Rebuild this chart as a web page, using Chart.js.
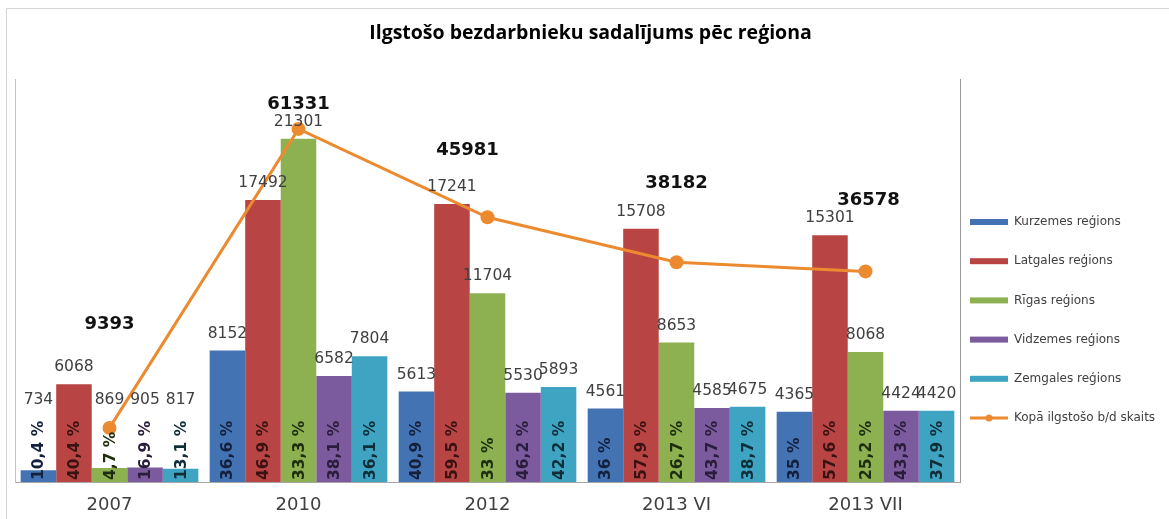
<!DOCTYPE html>
<html lang="lv">
<head>
<meta charset="utf-8">
<title>Ilgstošo bezdarbnieku sadalījums pēc reģiona</title>
<script src="https://cdn.jsdelivr.net/npm/chart.js@4.4.1/dist/chart.umd.min.js"></script>
<style>
  html, body { margin: 0; padding: 0; background: #fff; overflow: hidden; }
  #wrap { position: relative; width: 1169px; height: 519px; }
</style>
</head>
<body>
<div id="wrap"><canvas id="chart"></canvas></div>
<script>
// data
const chartTitle = 'Ilgstošo bezdarbnieku sadalījums pēc reģiona';
const periods = ['2007', '2010', '2012', '2013 VI', '2013 VII'];

const kurzeme = [734, 8152, 5613, 4561, 4365];
const latgale = [6068, 17492, 17241, 15708, 15301];
const riga = [869, 21301, 11704, 8653, 8068];
const vidzeme = [905, 6582, 5530, 4585, 4424];
const zemgale = [817, 7804, 5893, 4675, 4420];

// share of long-term unemployed, %
const kurzemePct = [10.4, 36.6, 40.9, 36, 35];
const latgalePct = [40.4, 46.9, 59.5, 57.9, 57.6];
const rigaPct = [4.7, 33.3, 33, 26.7, 25.2];
const vidzemePct = [16.9, 38.1, 46.2, 43.7, 43.3];
const zemgalePct = [13.1, 36.1, 42.2, 38.7, 37.9];

const totals = [9393, 61331, 45981, 38182, 36578];

const barSeries = [
    { label: 'Kurzemes reģions', values: kurzeme, pct: kurzemePct, color: '#4473b4', pctColor: '#14213d' },
    { label: 'Latgales reģions', values: latgale, pct: latgalePct, color: '#b84543', pctColor: '#3b1212' },
    { label: 'Rīgas reģions', values: riga, pct: rigaPct, color: '#8db150', pctColor: '#1f2d0f' },
    { label: 'Vidzemes reģions', values: vidzeme, pct: vidzemePct, color: '#7b5b9e', pctColor: '#2a1d3b' },
    { label: 'Zemgales reģions', values: zemgale, pct: zemgalePct, color: '#3fa3c2', pctColor: '#0f2e38' }
];
const totalLabel = 'Kopā ilgstošo b/d skaits';
const totalColor = '#ec8a2f';

// totals labels were nudged by hand in the original
const totalShift = [[0, -104], [0, -25], [-20, -67], [0, -79], [3, -71]];

const fmtPct = v => String(v).replace('.', ',') + ' %';
const numFont = '"DejaVu Sans", sans-serif';

const labelPlugin = {
    id: 'labels',
    beforeDraw(chart) {
        const ctx = chart.ctx;
        ctx.save();
        ctx.strokeStyle = '#d4d4d4';
        ctx.lineWidth = 1;
        ctx.beginPath();
        ctx.moveTo(6.5, chart.height);
        ctx.lineTo(6.5, 8.5);
        ctx.lineTo(chart.width, 8.5);
        ctx.stroke();
        ctx.fillStyle = '#000';
        ctx.font = 'bold 19.5px "Open Sans", sans-serif';
        ctx.textAlign = 'center';
        ctx.textBaseline = 'middle';
        ctx.fillText(chartTitle, chart.width / 2 + 6, 33);
        ctx.restore();
    },
    afterDatasetsDraw(chart) {
        const ctx = chart.ctx;
        const base = chart.scales.y.getPixelForValue(0);
        ctx.save();
        ctx.textBaseline = 'middle';
        barSeries.forEach((s, i) => {
            chart.getDatasetMeta(i).data.forEach((bar, j) => {
                ctx.font = '15.5px ' + numFont;
                ctx.fillStyle = '#404040';
                ctx.textAlign = 'center';
                ctx.fillText(String(s.values[j]), bar.x, Math.min(bar.y - 17, base - 82));

                ctx.save();
                ctx.translate(bar.x, base - 2);
                ctx.rotate(-Math.PI / 2);
                ctx.font = 'bold 15.5px ' + numFont;
                ctx.fillStyle = s.pctColor;
                ctx.textAlign = 'left';
                ctx.fillText(fmtPct(s.pct[j]), 0, 1);
                ctx.restore();
            });
        });
        // totals
        ctx.font = 'bold 18px ' + numFont;
        ctx.fillStyle = '#111';
        ctx.textAlign = 'center';
        chart.getDatasetMeta(barSeries.length).data.forEach((pt, j) => {
            ctx.fillText(String(totals[j]), pt.x + totalShift[j][0], pt.y + totalShift[j][1]);
        });
        ctx.restore();
    },
    afterDraw(chart) {
        // legend on the right
        const ctx = chart.ctx;
        const x0 = 970, top = 222, step = 39.2;
        ctx.save();
        ctx.font = '12px ' + numFont;
        ctx.textBaseline = 'middle';
        ctx.textAlign = 'left';
        barSeries.forEach((s, i) => {
            const y = top + i * step;
            ctx.fillStyle = s.color;
            ctx.fillRect(x0, y - 3, 38, 6);
            ctx.fillStyle = '#404040';
            ctx.fillText(s.label, x0 + 44, y);
        });
        const y = top + barSeries.length * step;
        ctx.strokeStyle = totalColor;
        ctx.lineWidth = 3;
        ctx.beginPath();
        ctx.moveTo(x0, y);
        ctx.lineTo(x0 + 38, y);
        ctx.stroke();
        ctx.fillStyle = totalColor;
        ctx.beginPath();
        ctx.arc(x0 + 19, y, 3.5, 0, Math.PI * 2);
        ctx.fill();
        ctx.fillStyle = '#404040';
        ctx.fillText(totalLabel, x0 + 44, y);
        ctx.restore();
    }
};

const datasets = barSeries.map(s => ({
    type: 'bar',
    label: s.label,
    data: s.values,
    backgroundColor: s.color,
    borderWidth: 0,
    categoryPercentage: 0.94,
    barPercentage: 1.0,
    yAxisID: 'y',
    order: 1
}));
datasets.push({
    type: 'line',
    label: totalLabel,
    data: totals,
    borderColor: totalColor,
    backgroundColor: totalColor,
    borderWidth: 3,
    pointRadius: 7,
    pointBorderWidth: 0,
    pointBackgroundColor: totalColor,
    tension: 0,
    yAxisID: 'y2',
    order: 0
});

new Chart(document.getElementById('chart'), {
    data: { labels: periods, datasets },
    options: {
        responsive: true,
        maintainAspectRatio: false,
        animation: false,
        layout: { padding: { left: 15, right: 209, top: 79, bottom: 0 } },
        plugins: {
            legend: { display: false },
            title: { display: false },
            tooltip: { enabled: false }
        },
        scales: {
            x: {
                grid: { display: false, drawTicks: false },
                border: { color: '#a6a6a6' },
                ticks: { color: '#404040', padding: 13, font: { family: 'DejaVu Sans', size: 18 } },
                afterFit: scale => { scale.height = 37; }
            },
            y: {
                min: 0, max: 25000,
                grid: { display: false, drawTicks: false },
                ticks: { display: false },
                border: { color: '#c4c4c4' },
                afterFit: scale => { scale.width = 0; }
            },
            y2: {
                position: 'right',
                min: 0, max: 70000,
                grid: { display: false, drawTicks: false },
                ticks: { display: false },
                border: { color: '#9a9a9a' },
                afterFit: scale => { scale.width = 0; }
            }
        }
    },
    plugins: [labelPlugin]
});
</script>
</body>
</html>
